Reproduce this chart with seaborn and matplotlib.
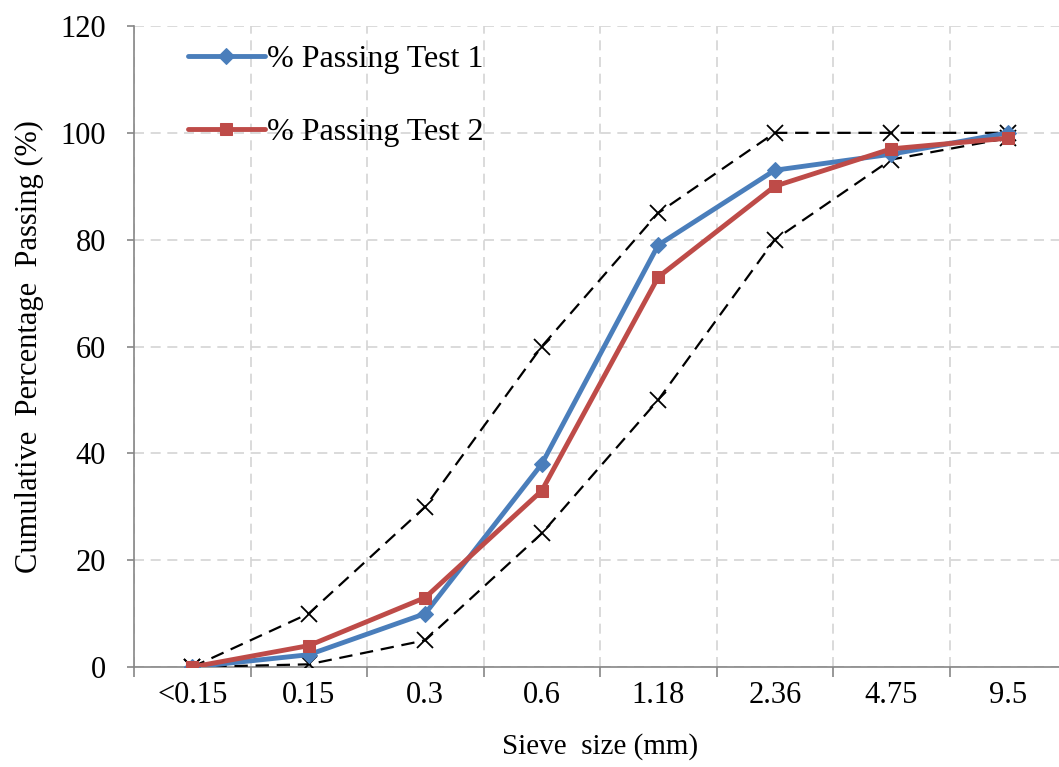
import pandas as pd
import matplotlib
matplotlib.use('Agg')
import matplotlib.pyplot as plt
import seaborn as sns

# sieve sizes and cumulative % passing
sieve = ['<0.15', '0.15', '0.3', '0.6', '1.18', '2.36', '4.75', '9.5']
test1 = [0, 2.3, 10, 38, 79, 93, 96, 100]
test2 = [0, 4, 13, 33, 73, 90, 97, 99]
upper = [0, 10, 30, 60, 85, 100, 100, 100]
lower = [0, 0.5, 5, 25, 50, 80, 95, 99]

sns.set_style('white')
plt.rcParams['font.family'] = ['Liberation Serif', 'DejaVu Serif']
plt.rcParams['text.color'] = 'black'
plt.rcParams['axes.labelcolor'] = 'black'
plt.rcParams['xtick.color'] = 'black'
plt.rcParams['ytick.color'] = 'black'

fig = plt.figure(figsize=(10.59, 7.67), dpi=100)
ax = fig.add_axes([134 / 1059, 100 / 767, 932 / 1059, 641 / 767])

df = pd.DataFrame({'sieve': sieve, 'test1': test1, 'test2': test2,
                   'upper': upper, 'lower': lower})

# grading envelope
for col in ['upper', 'lower']:
    sns.lineplot(data=df, x='sieve', y=col, ax=ax, color='black', lw=1.6,
                 marker='x', markersize=11, markeredgewidth=1.3,
                 markeredgecolor='black', linestyle=(0, (6, 3.5)), zorder=3)

sns.lineplot(data=df, x='sieve', y='test1', ax=ax, color='#4A7EBB', lw=3.5,
             marker='D', markersize=8, markeredgecolor='#4A7EBB',
             label='% Passing Test 1', zorder=4)
sns.lineplot(data=df, x='sieve', y='test2', ax=ax, color='#BE4B48', lw=3.5,
             marker='s', markersize=9, markeredgecolor='#BE4B48',
             label='% Passing Test 2', zorder=5)

ax.set_xlim(-0.5, len(sieve) - 0.5)
ax.set_ylim(0, 120)
ax.set_yticks(range(0, 121, 20))
ax.set_xticks(range(len(sieve)))
ax.set_xticklabels(sieve)
ax.set_xticks([i + 0.5 for i in range(-1, len(sieve))], minor=True)

# Excel-like grid: vertical lines between categories
ax.grid(False)
ax.yaxis.grid(True, color='#D4D4D4', lw=1.2, linestyle=(0, (6, 4)))
ax.xaxis.grid(True, which='minor', color='#D4D4D4', lw=1.2, linestyle=(0, (6, 4)))
ax.set_axisbelow(True)

for s in ['top', 'right']:
    ax.spines[s].set_visible(False)
for s in ['left', 'bottom']:
    ax.spines[s].set_color('#868686')
    ax.spines[s].set_linewidth(1.2)

ax.tick_params(axis='x', which='major', length=0, labelsize=22, pad=10)
ax.tick_params(axis='x', which='minor', length=7, color='#868686', width=1.2,
               direction='out', bottom=True)
ax.tick_params(axis='y', length=5, color='#868686', width=1.2, direction='out',
               left=True, labelsize=22, pad=15)

ax.set_xlabel('Sieve  size (mm)', fontsize=21, labelpad=17)
ax.set_ylabel('Cumulative  Percentage  Passing (%)', fontsize=22, labelpad=12)

leg = ax.legend(loc='upper left', bbox_to_anchor=(0.027, 1.016), frameon=False,
                fontsize=23, handlelength=2.4, handletextpad=0.08,
                labelspacing=1.37)

plt.savefig('out.png', dpi=100)
